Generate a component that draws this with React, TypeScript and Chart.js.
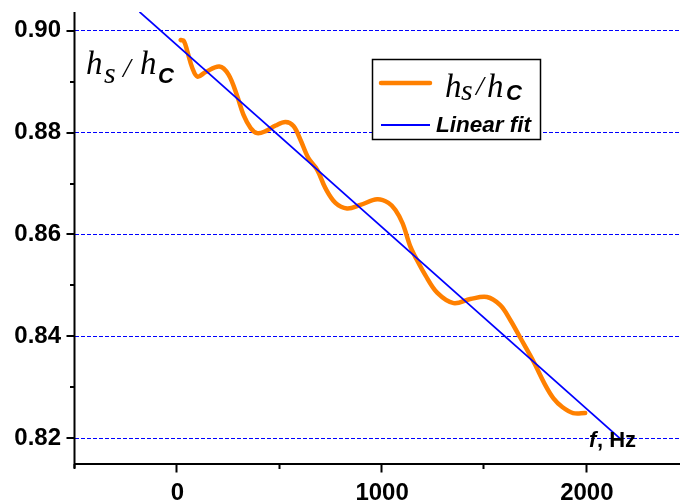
import React, { useEffect, useRef } from "react";
import { Chart, registerables } from "chart.js";
Chart.register(...registerables);

// ---- data ----
const freqHz = [16, 32, 49, 73, 98, 138, 205, 250, 293, 323, 358, 390, 431, 480, 528, 567, 601, 640, 683, 723, 772, 829, 894, 976, 1031, 1065, 1100, 1138, 1162, 1211, 1270, 1349, 1431, 1512, 1577, 1626, 1675, 1740, 1797, 1837, 1880, 1933, 1992];
const ratio = [0.8982, 0.898, 0.8959, 0.8927, 0.891, 0.8919, 0.893, 0.8914, 0.8871, 0.8835, 0.8809, 0.8799, 0.8803, 0.8814, 0.8821, 0.8813, 0.8786, 0.875, 0.8727, 0.8691, 0.8662, 0.8651, 0.8658, 0.8669, 0.8662, 0.8648, 0.8622, 0.8576, 0.8556, 0.852, 0.8485, 0.8465, 0.8473, 0.8477, 0.8461, 0.8432, 0.8397, 0.835, 0.8304, 0.8278, 0.8261, 0.8249, 0.8249];
const fitFreq = [-185, 2171];
const fitRatio = [0.90372, 0.81958];
const xMajorTicks = [0, 1000, 2000];
const xMinorTicks = [-500, 500, 1500];
const yMajorTicks = [0.82, 0.84, 0.86, 0.88, 0.9];
const yMinorTicks = [0.83, 0.85, 0.87, 0.89];
const xRange = [-500, 2455];
const yRange = [0.8149, 0.9037];

const SANS = '"Liberation Sans", Arial, sans-serif';
const SERIF = '"Liberation Serif", "Times New Roman", serif';

type Part = { text: string; font: string; x: number; y: number };

function drawParts(ctx: CanvasRenderingContext2D, parts: Part[]) {
  ctx.fillStyle = "#000";
  ctx.textAlign = "left";
  ctx.textBaseline = "alphabetic";
  for (const p of parts) {
    ctx.font = p.font;
    ctx.fillText(p.text, p.x, p.y);
  }
}

const decorPlugin = {
  id: "decor",
  afterDraw(chart: any) {
    const ctx: CanvasRenderingContext2D = chart.ctx;
    const xs = chart.scales.x;
    const ys = chart.scales.y;
    const area = chart.chartArea;
    ctx.save();
    ctx.strokeStyle = "#000";
    ctx.lineWidth = 2;
    // axes
    ctx.beginPath();
    ctx.moveTo(area.left - 0.5, area.top);
    ctx.lineTo(area.left - 0.5, area.bottom + 4);
    ctx.moveTo(area.left - 1.5, area.bottom);
    ctx.lineTo(area.right, area.bottom);
    ctx.stroke();
    // x ticks
    ctx.beginPath();
    for (const v of xMajorTicks) {
      const px = Math.round(xs.getPixelForValue(v)) - 0.5;
      ctx.moveTo(px, area.bottom);
      ctx.lineTo(px, area.bottom + 8.5);
    }
    for (const v of xMinorTicks) {
      const px = Math.round(xs.getPixelForValue(v)) - 0.5;
      ctx.moveTo(px, area.bottom);
      ctx.lineTo(px, area.bottom + 5);
    }
    // y ticks
    for (const v of yMajorTicks) {
      const py = Math.round(ys.getPixelForValue(v));
      ctx.moveTo(area.left - 8.5, py);
      ctx.lineTo(area.left, py);
    }
    for (const v of yMinorTicks) {
      const py = Math.round(ys.getPixelForValue(v));
      ctx.moveTo(area.left - 5, py);
      ctx.lineTo(area.left, py);
    }
    ctx.stroke();

    // top-left label h_s / h_C
    drawParts(ctx, [
      { text: "h", font: `italic 33px ${SERIF}`, x: 86, y: 74 },
      { text: "s", font: `italic 30px ${SERIF}`, x: 104, y: 83 },
      { text: "/", font: `italic 28px ${SERIF}`, x: 123, y: 77 },
      { text: "h", font: `italic 33px ${SERIF}`, x: 140, y: 74 },
      { text: "C", font: `bold italic 22px ${SANS}`, x: 158, y: 82.5 },
    ]);

    // x-axis title
    drawParts(ctx, [
      { text: "f", font: `bold italic 22px ${SANS}`, x: 589, y: 447 },
      { text: ", Hz", font: `bold 22px ${SANS}`, x: 597, y: 447 },
    ]);

    // legend
    ctx.fillStyle = "#fff";
    ctx.fillRect(372, 59, 169, 81);
    ctx.strokeStyle = "#000";
    ctx.lineWidth = 1.5;
    ctx.strokeRect(372.5, 59.5, 168, 80);
    ctx.lineCap = "round";
    ctx.strokeStyle = "#ff8000";
    ctx.lineWidth = 4.5;
    ctx.beginPath();
    ctx.moveTo(381, 83);
    ctx.lineTo(430, 83);
    ctx.stroke();
    ctx.lineCap = "butt";
    ctx.strokeStyle = "#0000ff";
    ctx.lineWidth = 1.8;
    ctx.beginPath();
    ctx.moveTo(381, 125);
    ctx.lineTo(430, 125);
    ctx.stroke();
    drawParts(ctx, [
      { text: "h", font: `italic 33px ${SERIF}`, x: 445, y: 96.5 },
      { text: "s", font: `italic 30px ${SERIF}`, x: 461, y: 99.5 },
      { text: "/", font: `italic 28px ${SERIF}`, x: 476, y: 95 },
      { text: "h", font: `italic 33px ${SERIF}`, x: 487, y: 96.5 },
      { text: "C", font: `bold italic 22px ${SANS}`, x: 506, y: 100 },
      { text: "Linear fit", font: `bold italic 22.5px ${SANS}`, x: 436, y: 132 },
    ]);
    ctx.restore();
  },
};

export default function App() {
  const ref = useRef<HTMLCanvasElement | null>(null);
  useEffect(() => {
    const canvas = ref.current;
    if (!canvas) return;
    const chart = new Chart(canvas, {
      type: "line",
      data: {
        datasets: [
          {
            label: "h_s / h_c",
            data: freqHz.map((f, i) => ({ x: f, y: ratio[i] })),
            borderColor: "#ff8000",
            backgroundColor: "#ff8000",
            borderWidth: 4.5,
            pointRadius: 0,
            tension: 0.35,
            borderCapStyle: "round",
            borderJoinStyle: "round",
            fill: false,
            order: 1,
          },
          {
            label: "Linear fit",
            data: fitFreq.map((f, i) => ({ x: f, y: fitRatio[i] })),
            borderColor: "#0000ff",
            backgroundColor: "#0000ff",
            borderWidth: 1.8,
            pointRadius: 0,
            tension: 0,
            fill: false,
            order: 0,
          },
        ] as any,
      },
      options: {
        responsive: false,
        animation: false,
        devicePixelRatio: 1,
        layout: { padding: { top: 12, left: 0, right: 0, bottom: 0 } },
        plugins: { legend: { display: false }, tooltip: { enabled: false } },
        scales: {
          x: {
            type: "linear",
            min: xRange[0],
            max: xRange[1],
            afterBuildTicks: (s: any) => {
              s.ticks = xMajorTicks.map((v) => ({ value: v }));
            },
            afterFit: (s: any) => {
              s.height = 38;
              s.paddingLeft = 0;
              s.paddingRight = 0;
              s.paddingTop = 0;
              s.paddingBottom = 0;
            },
            grid: { display: false },
            border: { display: false },
            ticks: {
              color: "#000",
              font: { family: SANS, size: 24, weight: "bold" },
              padding: 7,
              maxRotation: 0,
              autoSkip: false,
              callback: (v: any) => String(v),
            },
          },
          y: {
            type: "linear",
            min: yRange[0],
            max: yRange[1],
            afterBuildTicks: (s: any) => {
              s.ticks = yMajorTicks.map((v) => ({ value: v }));
            },
            afterFit: (s: any) => {
              s.width = 75;
              s.paddingTop = 0;
              s.paddingBottom = 0;
              s.paddingLeft = 0;
              s.paddingRight = 0;
            },
            grid: { color: "#0000ff", lineWidth: 1, drawTicks: false },
            border: { display: false, dash: [4, 2] },
            ticks: {
              color: "#000",
              font: { family: SANS, size: 24, weight: "bold" },
              padding: 14,
              autoSkip: false,
              callback: (v: any) => Number(v).toFixed(2),
            },
          },
        },
      } as any,
      plugins: [decorPlugin],
    });
    return () => chart.destroy();
  }, []);
  return (
    <div style={{ position: "fixed", left: 0, top: 0, width: 680, height: 502, background: "#fff" }}>
      <canvas ref={ref} width={680} height={502} style={{ display: "block" }} />
    </div>
  );
}
